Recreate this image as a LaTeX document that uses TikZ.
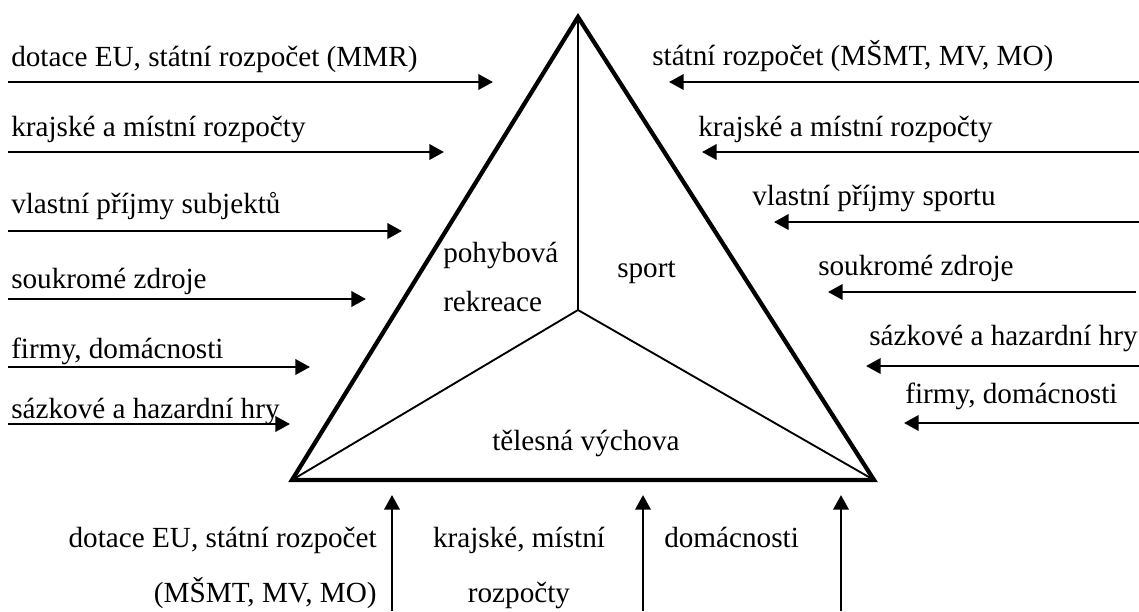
\documentclass[tikz,border=0pt]{standalone}
\usepackage{fontspec}
\setmainfont{Liberation Serif}
\usetikzlibrary{arrows.meta}

\begin{document}
\begin{tikzpicture}[x=0.75pt, y=-0.75pt, font=\fontsize{21.9}{26}\selectfont,
    lbl/.style={inner sep=0pt, anchor=base west},
    flow/.style={-{Triangle[length=11pt,width=11.5pt]}, line width=2pt}]

    \useasboundingbox (0,0) rectangle (1139,611);

    \coordinate (top) at (578,17);
    \coordinate (bl) at (292,480);
    \coordinate (br) at (874,480);
    \coordinate (mid) at (578,310);

    \draw[line width=3.2pt] (top) -- (bl) -- (br) -- cycle;
    \draw[line width=1.4pt] (top) -- (mid);
    \draw[line width=1.4pt] (bl) -- (mid) -- (br);

    \node[lbl] (rek1) at (443,262) {pohybová};
    \node[lbl] (rek2) at (443,311) {rekreace};
    \node[lbl] (sport) at (617,277) {sport};
    \node[lbl] (tv) at (492,450) {tělesná výchova};

    % left side
    \node[lbl] (l1) at (11,66) {dotace EU, státní rozpočet (MMR)};
    \node[lbl] (l2) at (11,136) {krajské a místní rozpočty};
    \node[lbl] (l3) at (11,213) {vlastní příjmy subjektů};
    \node[lbl] (l4) at (11,288) {soukromé zdroje};
    \node[lbl] (l5) at (11,358) {firmy, domácnosti};
    \node[lbl] (l6) at (11,418) {sázkové a hazardní hry};

    \coordinate (l1a) at (8,82);   \coordinate (l1b) at (493,82);
    \coordinate (l2a) at (8,152);  \coordinate (l2b) at (444,152);
    \coordinate (l3a) at (8,231);  \coordinate (l3b) at (402,231);
    \coordinate (l4a) at (8,299);  \coordinate (l4b) at (366,299);
    \coordinate (l5a) at (8,367);  \coordinate (l5b) at (310,367);
    \coordinate (l6a) at (8,424);  \coordinate (l6b) at (290,424);

    \draw[flow] (l1a) -- (l1b);
    \draw[flow] (l2a) -- (l2b);
    \draw[flow] (l3a) -- (l3b);
    \draw[flow] (l4a) -- (l4b);
    \draw[flow] (l5a) -- (l5b);
    \draw[flow] (l6a) -- (l6b);

    % right side
    \node[lbl] (r1) at (652,65) {státní rozpočet (MŠMT, MV, MO)};
    \node[lbl] (r2) at (698,136) {krajské a místní rozpočty};
    \node[lbl] (r3) at (752,205) {vlastní příjmy sportu};
    \node[lbl] (r4) at (818,275) {soukromé zdroje};
    \node[lbl] (r5) at (869,345) {sázkové a hazardní hry};
    \node[lbl] (r6) at (905,403) {firmy, domácnosti};

    \coordinate (r1a) at (1139,82);  \coordinate (r1b) at (669,82);
    \coordinate (r2a) at (1139,152); \coordinate (r2b) at (702,152);
    \coordinate (r3a) at (1139,222); \coordinate (r3b) at (774,222);
    \coordinate (r4a) at (1136,292); \coordinate (r4b) at (828,292);
    \coordinate (r5a) at (1139,366); \coordinate (r5b) at (866,366);
    \coordinate (r6a) at (1139,423); \coordinate (r6b) at (904,423);

    \draw[flow] (r1a) -- (r1b);
    \draw[flow] (r2a) -- (r2b);
    \draw[flow] (r3a) -- (r3b);
    \draw[flow] (r4a) -- (r4b);
    \draw[flow] (r5a) -- (r5b);
    \draw[flow] (r6a) -- (r6b);

    % bottom
    \node[lbl, anchor=base east] (b1) at (377,547) {dotace EU, státní rozpočet};
    \node[lbl, anchor=base east] (b2) at (377,602) {(MŠMT, MV, MO)};
    \node[lbl, anchor=base] (b3) at (519,547) {krajské, místní};
    \node[lbl, anchor=base] (b4) at (519,602) {rozpočty};
    \node[lbl] (b5) at (664,547) {domácnosti};

    \coordinate (b1a) at (392,611); \coordinate (b1b) at (392,495);
    \coordinate (b2a) at (643,611); \coordinate (b2b) at (643,495);
    \coordinate (b3a) at (841,611); \coordinate (b3b) at (841,495);

    \draw[flow] (b1a) -- (b1b);
    \draw[flow] (b2a) -- (b2b);
    \draw[flow] (b3a) -- (b3b);

\end{tikzpicture}
\end{document}
